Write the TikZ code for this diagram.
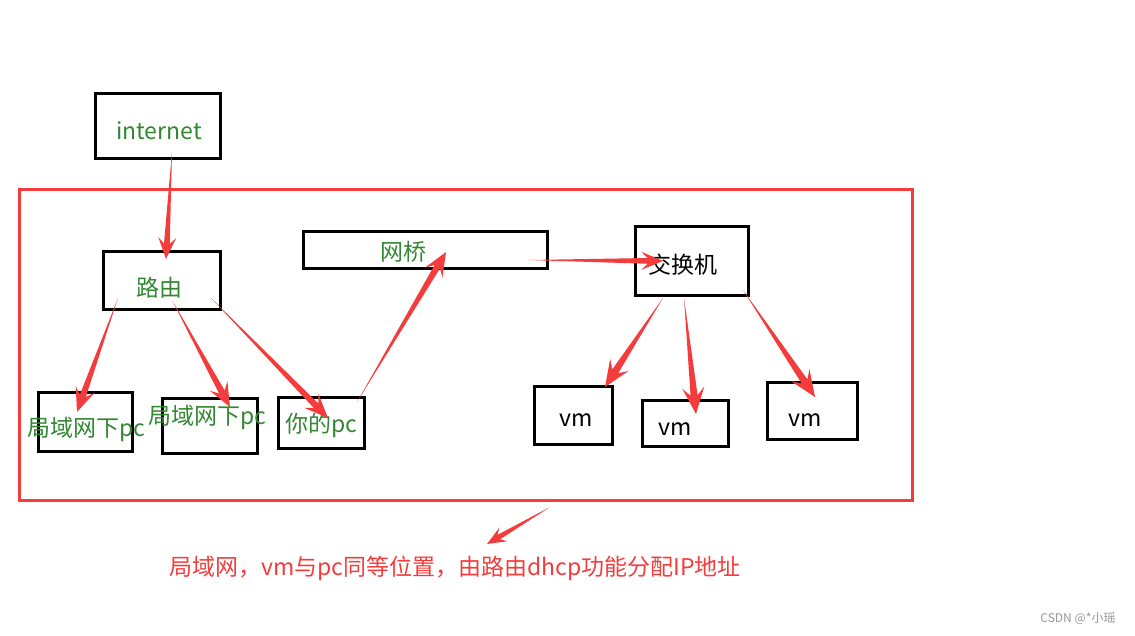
\documentclass[tikz,border=0pt]{standalone}
\usepackage{fontspec}
\newfontfamily\cjk{Noto Sans CJK SC}
\usepackage{xcolor}
\usepackage{tikz}
\usetikzlibrary{calc}

\definecolor{lblgreen}{RGB}{50,135,50}
\definecolor{alertred}{RGB}{245,60,60}
\definecolor{markgray}{RGB}{150,150,150}

% hand painted arrow: [size]{tail}{tip}
\newcommand{\paintarrow}[3][1]{%
  \coordinate (nb) at ($(#3)!#1*17pt!(#2)$);
  \coordinate (hb) at ($(#3)!#1*24pt!(#2)$);
  \fill[alertred] (#2) -- ($(nb)!#1*3.2pt!90:(#3)$) -- ($(hb)!#1*10pt!90:(#3)$)
    -- (#3) -- ($(hb)!#1*10pt!-90:(#3)$) -- ($(nb)!#1*3.2pt!-90:(#3)$) -- cycle;
}

\begin{document}
\begin{tikzpicture}[x=1pt,y=-1pt,
    box/.style={draw=black, line width=3.3pt, inner sep=0pt},
    lbl/.style={font=\cjk\fontsize{23}{23}\selectfont, text=lblgreen, inner sep=0pt},
    blk/.style={lbl, text=black}]
    \useasboundingbox (0,0) rectangle (1135,635);

    % LAN frame
    \node[draw=alertred, line width=3pt, minimum width=893, minimum height=311] (lan) at (466,345) {};

    % boxes
    \node[box, minimum width=125, minimum height=65] (internet) at (158,126) {};
    \node[box, minimum width=117, minimum height=58] (router) at (162,280.5) {};
    \node[box, minimum width=244, minimum height=37] (bridge) at (425.5,250) {};
    \node[box, minimum width=113, minimum height=69] (switch) at (692,261) {};
    \node[box, minimum width=94, minimum height=59] (lanpc1) at (85.5,422) {};
    \node[box, minimum width=95, minimum height=55] (lanpc2) at (210,426) {};
    \node[box, minimum width=86, minimum height=51] (mypc) at (321.5,423) {};
    \node[box, minimum width=78, minimum height=58] (vm1) at (573.5,415.5) {};
    \node[box, minimum width=86, minimum height=46] (vm2) at (685.5,423.5) {};
    \node[box, minimum width=90, minimum height=57] (vm3) at (812.5,411) {};

    % labels
    \node[lbl] (internet-txt) at (159,131) {internet};
    \node[lbl] (router-txt) at (159,288) {路由};
    \node[lbl] (bridge-txt) at (403,252) {网桥};
    \node[blk] (switch-txt) at (683,265) {交换机};
    \node[lbl] (lanpc1-txt) at (86,429) {局域网下pc};
    \node[lbl] (lanpc2-txt) at (207,417) {局域网下pc};
    \node[lbl] (mypc-txt) at (321,425) {你的pc};
    \foreach \n/\x/\y in {vm1/576/420, vm2/675/429, vm3/805/420}
    \node[blk] (\n-txt) at (\x,\y) {vm};

    \node[lbl, text=alertred] (note) at (455,568) {局域网，vm与pc同等位置，由路由dhcp功能分配IP地址};
    \node[font=\cjk\fontsize{12}{12}\selectfont, text=markgray, inner sep=0pt] (mark) at (1078,619) {CSDN @*小瑶};

    % arrow ends
    \coordinate (inet-out) at (172,152);  \coordinate (router-in) at (166,259);
    \coordinate (router-out1) at (118,298); \coordinate (lanpc1-in) at (77,412);
    \coordinate (router-out2) at (172,300); \coordinate (lanpc2-in) at (230,407);
    \coordinate (router-out3) at (211,298); \coordinate (mypc-in) at (328,418);
    \coordinate (mypc-out) at (357,402);  \coordinate (bridge-in) at (446,252);
    \coordinate (bridge-out) at (528,260); \coordinate (switch-in) at (663,261);
    \coordinate (switch-out1) at (663,298); \coordinate (vm1-in) at (605,387);
    \coordinate (switch-out2) at (684,298); \coordinate (vm2-in) at (696,414);
    \coordinate (switch-out3) at (743,290); \coordinate (vm3-in) at (815,397);
    \coordinate (note-out) at (550,507);  \coordinate (note-in) at (487,544);

    \paintarrow[0.9]{inet-out}{router-in}
    \paintarrow{router-out1}{lanpc1-in}
    \paintarrow{router-out2}{lanpc2-in}
    \paintarrow{router-out3}{mypc-in}
    \paintarrow{mypc-out}{bridge-in}
    \paintarrow[0.9]{bridge-out}{switch-in}
    \foreach \i in {1,2,3}
    {\paintarrow[1.1]{switch-out\i}{vm\i-in}}
    \paintarrow[0.8]{note-out}{note-in}
\end{tikzpicture}
\end{document}
